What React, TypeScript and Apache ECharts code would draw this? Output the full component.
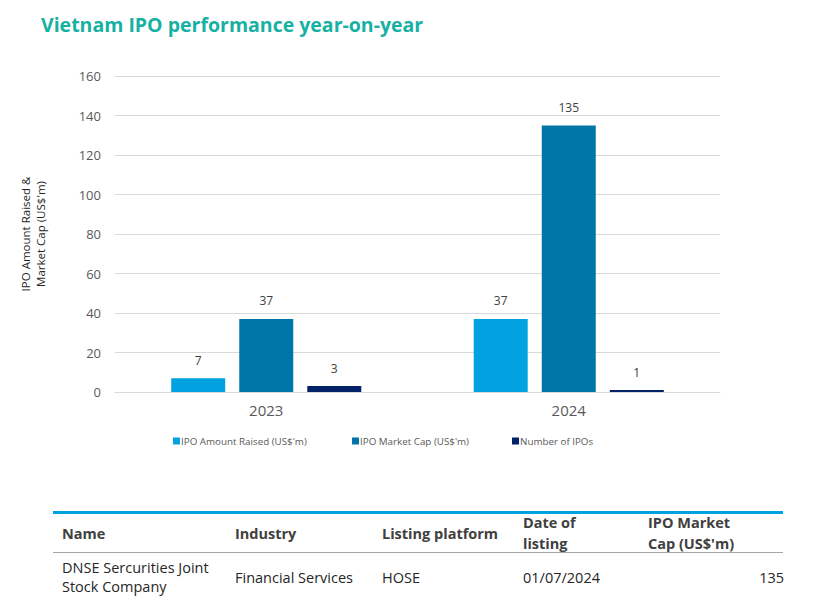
import React, { useEffect, useRef } from "react";
import * as echarts from "echarts";

const years = ["2023", "2024"];
const amountRaised = [7, 37];
const marketCap = [37, 135];
const numberOfIPOs = [3, 1];
const yTicks = { min: 0, max: 160, interval: 20 };
const seriesNames = ["IPO Amount Raised (US$'m)", "IPO Market Cap (US$'m)", "Number of IPOs"];

const tableHeaders = [["Name"], ["Industry"], ["Listing platform"], ["Date of", "listing"], ["IPO Market", "Cap (US$'m)"]];
const tableRow = [["DNSE Sercurities Joint", "Stock Company"], ["Financial Services"], ["HOSE"], ["01/07/2024"], ["135"]];

const FONT = "'Open Sans', 'Noto Sans', sans-serif";

export default function App() {
  const ref = useRef<HTMLDivElement>(null);
  useEffect(() => {
    if (!ref.current) return;
    const chart = echarts.init(ref.current, undefined, { renderer: "svg" });
    const colX = [62, 235, 382, 523, 648];
    const legendLeft = [168, 347, 507];
    const label = {
      show: true,
      position: "top",
      distance: 12,
      color: "#404040",
      fontSize: 12,
      fontFamily: FONT,
    };
    const colors = ["#00A3E0", "#0076A8", "#012169"];
    const dataSets = [amountRaised, marketCap, numberOfIPOs];

    const cellTexts = (lines: string[], x: number, yc: number, lh: number, font: string, fill: string, align: string) =>
      lines.map((t, j) => ({
        type: "text",
        x,
        y: yc + (j - (lines.length - 1) / 2) * lh,
        style: { text: t, fill, font, verticalAlign: "middle", align },
      }));

    chart.setOption({
      animation: false,
      title: {
        text: "Vietnam IPO performance year-on-year",
        left: 36,
        top: 9,
        textStyle: { color: "#17B1A4", fontSize: 19.5, fontWeight: "bold", fontFamily: FONT },
      },
      grid: { left: 115, right: 100, top: 76, bottom: 207, containLabel: false },
      legend: seriesNames.map((n, i) => ({
        bottom: 148,
        left: legendLeft[i],
        itemWidth: 7,
        itemHeight: 7,
        icon: "rect",
        textStyle: { color: "#595959", fontSize: 9.8, fontFamily: FONT, padding: [0, 0, 0, -4] },
        data: [n],
      })),
      xAxis: {
        type: "category",
        data: years,
        axisLine: { show: true, lineStyle: { color: "#D9D9D9" } },
        axisTick: { show: false },
        axisLabel: { color: "#595959", fontSize: 15, fontFamily: FONT, margin: 10 },
      },
      yAxis: {
        type: "value",
        min: yTicks.min,
        max: yTicks.max,
        interval: yTicks.interval,
        name: "IPO Amount Raised &\nMarket Cap (US$'m)",
        nameLocation: "middle",
        nameGap: 67,
        nameTextStyle: { color: "#262626", fontSize: 11.5, fontFamily: FONT, lineHeight: 15 },
        axisLine: { show: false },
        axisTick: { show: false },
        axisLabel: { color: "#595959", fontSize: 13, fontFamily: FONT, margin: 14 },
        splitLine: { lineStyle: { color: "#D9D9D9" } },
      },
      series: seriesNames.map((n, i) => ({
        name: n,
        type: "bar",
        data: dataSets[i],
        barWidth: 54,
        barGap: "26%",
        itemStyle: { color: colors[i] },
        label,
      })),
      graphic: [
        { type: "rect", shape: { x: 53, y: 511, width: 730, height: 3 }, style: { fill: "#00A3E0" } },
        { type: "rect", shape: { x: 53, y: 552, width: 730, height: 1 }, style: { fill: "#A6A6A6" } },
        ...tableHeaders.flatMap((h, i) =>
          cellTexts(h, colX[i], 533, 21, `bold 14.5px ${FONT}`, "#404040", "left")
        ),
        ...tableRow.flatMap((c, i) =>
          cellTexts(c, i === 4 ? 784 : colX[i], 577, 19.8, `14.5px ${FONT}`, "#262626", i === 4 ? "right" : "left")
        ),
      ],
    });
    return () => chart.dispose();
  }, []);
  return <div ref={ref} style={{ position: "absolute", left: 0, top: 0, width: 820, height: 599 }} />;
}
